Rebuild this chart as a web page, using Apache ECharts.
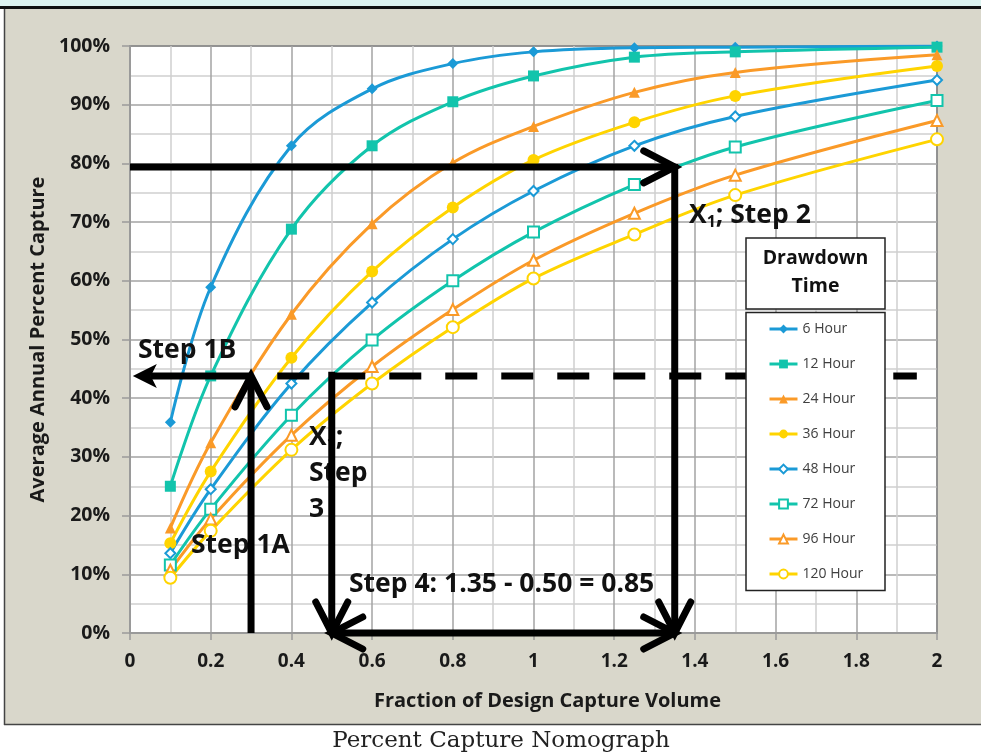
<!DOCTYPE html>
<html>
<head>
<meta charset="utf-8">
<script src="https://cdn.jsdelivr.net/npm/echarts@6.0.0/dist/echarts.min.js"></script>
<style>
  html, body { margin: 0; padding: 0; background: #fff; }
  #chart { width: 981px; height: 755px; }
</style>
</head>
<body>
<div id="chart"></div>
<script>
// ---------- data ----------
const xValues = [0.1, 0.2, 0.4, 0.6, 0.8, 1.0, 1.25, 1.5, 2.0];
const seriesNames = ['6 Hour', '12 Hour', '24 Hour', '36 Hour', '48 Hour', '72 Hour', '96 Hour', '120 Hour'];
const hour6   = [35.9, 58.9, 83.0, 92.7, 97.0, 99.0, 99.7, 99.8, 100.0];
const hour12  = [25.0, 43.8, 68.8, 83.0, 90.5, 94.9, 98.1, 99.0, 99.8];
const hour24  = [17.9, 32.4, 54.3, 69.7, 80.1, 86.3, 92.1, 95.5, 98.5];
const hour36  = [15.3, 27.5, 46.9, 61.6, 72.5, 80.6, 87.0, 91.5, 96.6];
const hour48  = [13.6, 24.5, 42.5, 56.3, 67.1, 75.3, 83.0, 88.0, 94.2];
const hour72  = [11.6, 21.1, 37.1, 49.9, 60.0, 68.3, 76.4, 82.8, 90.7];
const hour96  = [10.7, 19.4, 33.7, 45.4, 55.1, 63.5, 71.5, 78.0, 87.3];
const hour120 = [9.4, 17.4, 31.2, 42.5, 52.1, 60.4, 67.9, 74.6, 84.1];
const seriesValues = [hour6, hour12, hour24, hour36, hour48, hour72, hour96, hour120];

const xTicks = { min: 0, max: 2, interval: 0.2 };
const yTicks = { min: 0, max: 100, interval: 10 };

// annotation arrows, in data units (x fraction, y percent)
const annotations = [
  { from: [0.3, 0],     to: [0.3, 43.8],   endHead: 'chevron' },            // Step 1A
  { from: [0.3, 43.8],  to: [0.007, 43.8], endHead: 'solid' },              // Step 1B
  { from: [0.365, 43.8], to: [1.95, 43.8], dashed: true },                  // dashed guide
  { from: [0.5, 44.5],  to: [0.5, 0],      endHead: 'chevron' },            // Step 3
  { from: [0, 79.4],    to: [1.35, 79.4],  endHead: 'chevron' },            // Step 2 horizontal
  { from: [1.35, 79.9], to: [1.35, 0],     endHead: 'chevron' },            // Step 2 vertical
  { from: [0.5, 0],     to: [1.35, 0],     endHead: 'chevron', startHead: 'chevron' } // Step 4
];

// ---------- styles ----------
const colors = ['#1B9AD6', '#12C4AC', '#FA9A28', '#FFD400', '#1B9AD6', '#12C4AC', '#FA9A28', '#FFD400'];
const symbols = ['diamond', 'rect', 'triangle', 'circle', 'emptyDiamond', 'emptyRect', 'emptyTriangle', 'emptyCircle'];
const symbolSizes = [11, 11, 11, 12, 10, 11, 11, 12];
const FONT = "'Open Sans', 'Noto Sans', sans-serif";
const ANNO_SIZE = 26.5;

const chart = echarts.init(document.getElementById('chart'), null, { renderer: 'canvas' });

const lineSeries = seriesNames.map((name, i) => ({
  name,
  type: 'line',
  data: xValues.map((x, j) => [x, seriesValues[i][j]]),
  smooth: 0.35,
  symbol: symbols[i],
  symbolSize: symbolSizes[i],
  showSymbol: true,
  color: colors[i],
  lineStyle: { width: 3, color: colors[i] },
  itemStyle: { color: colors[i], borderColor: colors[i], borderWidth: symbols[i].startsWith('empty') ? 2.2 : 0 },
  emphasis: { disabled: true },
  silent: true,
  z: 2
}));

function renderAnno(params, api) {
  const a = annotations[params.dataIndex];
  const p1 = api.coord(a.from), p2 = api.coord(a.to);
  const dx = p2[0] - p1[0], dy = p2[1] - p1[1];
  const len = Math.hypot(dx, dy);
  const ux = dx / len, uy = dy / len;
  const children = [];
  let e1 = p1.slice(), e2 = p2.slice();
  if (a.endHead === 'solid') { e2 = [p2[0] - ux * 18, p2[1] - uy * 18]; }
  children.push({
    type: 'line',
    shape: { x1: e1[0], y1: e1[1], x2: e2[0], y2: e2[1] },
    style: { stroke: '#000', lineWidth: 7, lineDash: a.dashed ? [32, 24] : null, lineCap: 'butt' }
  });
  function chevron(tip, vx, vy) {
    const nx = -vy, ny = vx, back = 31, side = 16;
    children.push({
      type: 'polyline',
      shape: { points: [
        [tip[0] - vx * back + nx * side, tip[1] - vy * back + ny * side],
        [tip[0], tip[1]],
        [tip[0] - vx * back - nx * side, tip[1] - vy * back - ny * side]
      ] },
      style: { stroke: '#000', lineWidth: 7, lineCap: 'round', lineJoin: 'miter', fill: null }
    });
  }
  function solid(tip, vx, vy) {
    const nx = -vy, ny = vx;
    children.push({
      type: 'polygon',
      shape: { points: [
        [tip[0], tip[1]],
        [tip[0] - vx * 24 + nx * 12, tip[1] - vy * 24 + ny * 12],
        [tip[0] - vx * 18, tip[1] - vy * 18],
        [tip[0] - vx * 24 - nx * 12, tip[1] - vy * 24 - ny * 12]
      ] },
      style: { fill: '#000', stroke: null }
    });
  }
  if (a.endHead === 'chevron') chevron(p2, ux, uy);
  if (a.endHead === 'solid') solid(p2, ux, uy);
  if (a.startHead === 'chevron') chevron(p1, -ux, -uy);
  return { type: 'group', children };
}

const annoSeries = {
  type: 'custom',
  name: 'annotations',
  coordinateSystem: 'cartesian2d',
  data: annotations.map(a => [a.from[0], a.from[1]]),
  renderItem: renderAnno,
  clip: false,
  silent: true,
  z: 4
};

const boldText = (text, x, y, size) => ({
  type: 'text', x, y, z: 3, silent: true,
  style: { text, fill: '#111', font: `bold ${size}px ${FONT}`, textVerticalAlign: 'middle' }
});

const richSub = {
  a: { font: `bold ${ANNO_SIZE}px ${FONT}`, fill: '#111', lineHeight: 36 },
  s: { font: `bold 16px ${FONT}`, fill: '#111', lineHeight: 14, verticalAlign: 'bottom', padding: [0, 0, 3, 0] }
};

const option = {
  animation: false,
  backgroundColor: '#D9D7CB',
  grid: { left: 130, right: 44, top: 46, bottom: 122, show: true, backgroundColor: '#fff', borderColor: '#333', borderWidth: 1.5, containLabel: false },
  xAxis: {
    type: 'value', min: xTicks.min, max: xTicks.max, interval: xTicks.interval,
    name: 'Fraction of Design Capture Volume', nameLocation: 'middle', nameGap: 58,
    nameTextStyle: { fontFamily: FONT, fontWeight: 'bold', fontSize: 20, color: '#1a1a1a', padding: [0, 0, 0, 28] },
    axisLine: { show: true, lineStyle: { color: '#9a9a9a', width: 2 } },
    axisTick: { show: true, length: 7, lineStyle: { color: '#9a9a9a', width: 1.5 } },
    axisLabel: { margin: 19, fontFamily: FONT, fontWeight: 'bold', fontSize: 19, color: '#1a1a1a',
      formatter: v => String(Math.round(v * 10) / 10) },
    splitLine: { show: true, lineStyle: { color: '#a3a3a3', width: 1.5 } },
    minorTick: { show: false, splitNumber: 2 },
    minorSplitLine: { show: true, lineStyle: { color: '#cfcfcf', width: 1.5 } }
  },
  yAxis: {
    type: 'value', min: yTicks.min, max: yTicks.max, interval: yTicks.interval,
    name: 'Average Annual Percent Capture', nameLocation: 'middle', nameGap: 76,
    nameTextStyle: { fontFamily: FONT, fontWeight: 'bold', fontSize: 20, color: '#1a1a1a' },
    axisLine: { show: true, lineStyle: { color: '#9a9a9a', width: 2 } },
    axisTick: { show: true, length: 8, lineStyle: { color: '#9a9a9a', width: 1.5 } },
    axisLabel: { margin: 20, fontFamily: FONT, fontWeight: 'bold', fontSize: 19.5, color: '#1a1a1a', formatter: '{value}%' },
    splitLine: { show: true, lineStyle: { color: '#a3a3a3', width: 1.5 } },
    minorTick: { show: false, splitNumber: 2 },
    minorSplitLine: { show: true, lineStyle: { color: '#cfcfcf', width: 1.5 } }
  },
  legend: {
    orient: 'vertical', left: 768, top: 321, padding: 0,
    itemWidth: 28, itemHeight: 11, itemGap: 19,
    data: seriesNames, selectedMode: false, z: 6,
    lineStyle: { width: 3 },
    textStyle: { fontFamily: FONT, fontSize: 14, color: '#404040', lineHeight: 16 }
  },
  graphic: [
    { type: 'rect', z: -10, silent: true, shape: { x: 0, y: 0, width: 981, height: 7 }, style: { fill: '#DDF3F0' } },
    { type: 'rect', z: -10, silent: true, shape: { x: 0, y: 6, width: 981, height: 3 }, style: { fill: '#111' } },
    { type: 'rect', z: -10, silent: true, shape: { x: 0, y: 9, width: 4, height: 746 }, style: { fill: '#fff' } },
    { type: 'rect', z: -10, silent: true, shape: { x: 0, y: 725, width: 981, height: 30 }, style: { fill: '#fff' } },
    { type: 'line', z: -9, silent: true, shape: { x1: 4.5, y1: 9, x2: 4.5, y2: 725 }, style: { stroke: '#444', lineWidth: 1.5 } },
    { type: 'line', z: -9, silent: true, shape: { x1: 4, y1: 724.5, x2: 981, y2: 724.5 }, style: { stroke: '#444', lineWidth: 1.5 } },
    { type: 'text', z: 3, silent: true, x: 501, y: 741,
      style: { text: 'Percent Capture Nomograph', fill: '#222', font: "23px 'DejaVu Serif', serif", textAlign: 'center', textVerticalAlign: 'middle' } },
    boldText('Step 1B', 138, 350, ANNO_SIZE),
    boldText('Step 1A', 191, 545, ANNO_SIZE),
    boldText('Step 4: 1.35 - 0.50 = 0.85', 349, 584, ANNO_SIZE),
    { type: 'text', z: 3, silent: true, x: 689, y: 215,
      style: { text: '{a|X}{s|1}{a|; Step 2}', textVerticalAlign: 'middle', rich: richSub } },
    { type: 'text', z: 3, silent: true, x: 309, y: 473,
      style: { text: '{a|X}{s|1}{a|;}\n{a|Step}\n{a|3}', textVerticalAlign: 'middle', rich: richSub } },
    // legend title box
    { type: 'rect', z: 5, silent: true, shape: { x: 746, y: 238, width: 139, height: 71 }, style: { fill: '#fff', stroke: '#222', lineWidth: 1.5 } },
    { type: 'text', z: 6, silent: true, x: 815.5, y: 272,
      style: { text: 'Drawdown\nTime', fill: '#111', font: `bold 19.5px ${FONT}`, lineHeight: 28, textAlign: 'center', textVerticalAlign: 'middle' } },
    // legend box
    { type: 'rect', z: 5, silent: true, shape: { x: 746, y: 312.5, width: 139, height: 278 }, style: { fill: '#fff', stroke: '#222', lineWidth: 1.5 } }
  ],
  series: [...lineSeries, annoSeries]
};

chart.setOption(option);
</script>
</body>
</html>
